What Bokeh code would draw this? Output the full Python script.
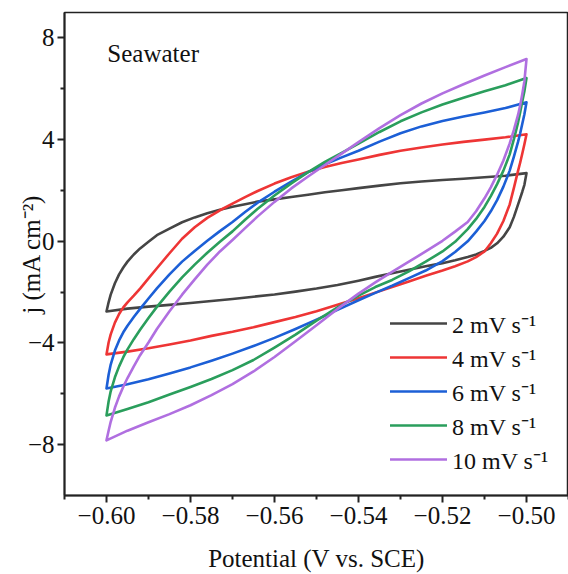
import numpy as np
from bokeh.plotting import figure
from bokeh.models import (Range1d, Legend, LegendItem, Label, FixedTicker,
                          CustomJSTickFormatter)
from bokeh.embed import file_html
from bokeh.resources import INLINE

# ---------------- data ----------------
scan_labels = ["2 mV s\u207b\u00b9", "4 mV s\u207b\u00b9", "6 mV s\u207b\u00b9",
               "8 mV s\u207b\u00b9", "10 mV s\u207b\u00b9"]
colors = ["#454545", "#ee3535", "#1c5fd6", "#2a9e5c", "#b06fe0"]

# forward (anodic) sweep potentials, V vs. SCE
potential_fwd = [-0.600, -0.5995, -0.599, -0.598, -0.597, -0.596, -0.595, -0.5935,
                 -0.592, -0.590, -0.588, -0.585, -0.582, -0.579, -0.576, -0.573,
                 -0.570, -0.567, -0.564, -0.560, -0.556, -0.552, -0.548, -0.544,
                 -0.540, -0.535, -0.530, -0.525, -0.520, -0.515, -0.510, -0.505,
                 -0.500]
# reverse (cathodic) sweep potentials
potential_rev = [-0.500, -0.5005, -0.501, -0.5015, -0.502, -0.503, -0.504, -0.5055,
                 -0.507, -0.5085, -0.510, -0.512, -0.514, -0.517, -0.520, -0.524,
                 -0.528, -0.532, -0.536, -0.540, -0.545, -0.550, -0.555, -0.560,
                 -0.565, -0.570, -0.575, -0.580, -0.585, -0.590, -0.595, -0.600]

# current density, mA cm-2
j2_fwd = [-2.76, -2.40, -2.10, -1.65, -1.30, -1.03, -0.80, -0.52, -0.28, -0.02,
          0.24, 0.50, 0.75, 0.94, 1.10, 1.24, 1.36, 1.46, 1.56, 1.65, 1.74, 1.83,
          1.93, 2.01, 2.09, 2.19, 2.28, 2.35, 2.41, 2.46, 2.52, 2.58, 2.68]
j2_rev = [2.68, 2.22, 1.95, 1.70, 1.45, 0.96, 0.55, 0.18, -0.08, -0.26, -0.38,
          -0.52, -0.62, -0.75, -0.86, -0.98, -1.12, -1.26, -1.40, -1.55, -1.72,
          -1.86, -1.98, -2.09, -2.18, -2.27, -2.35, -2.43, -2.50, -2.57, -2.65,
          -2.76]

j4_fwd = [-4.45, -3.98, -3.66, -3.20, -2.86, -2.60, -2.40, -2.14, -1.86, -1.46,
          -1.06, -0.47, 0.10, 0.55, 0.92, 1.22, 1.48, 1.74, 1.98, 2.27, 2.52, 2.74,
          2.92, 3.08, 3.22, 3.40, 3.56, 3.69, 3.81, 3.91, 4.00, 4.09, 4.21]
j4_rev = [4.21, 3.82, 3.45, 3.10, 2.78, 2.10, 1.45, 0.80, 0.30, -0.08, -0.40,
          -0.62, -0.79, -0.98, -1.15, -1.36, -1.58, -1.80, -2.02, -2.24, -2.50,
          -2.75, -2.98, -3.18, -3.38, -3.56, -3.72, -3.90, -4.06, -4.21, -4.34,
          -4.45]

j6_fwd = [-5.79, -5.25, -4.85, -4.30, -3.90, -3.58, -3.32, -2.98, -2.66, -2.25,
          -1.85, -1.30, -0.80, -0.38, 0.02, 0.40, 0.76, 1.15, 1.52, 1.95, 2.35,
          2.72, 3.03, 3.30, 3.56, 3.92, 4.25, 4.52, 4.73, 4.91, 5.07, 5.24, 5.47]
j6_rev = [5.47, 5.00, 4.62, 4.25, 3.92, 3.33, 2.78, 2.15, 1.62, 1.18, 0.80, 0.38,
          0.00, -0.42, -0.78, -1.15, -1.45, -1.75, -2.03, -2.32, -2.70, -3.08,
          -3.45, -3.80, -4.12, -4.42, -4.70, -4.96, -5.20, -5.43, -5.62, -5.79]

j8_fwd = [-6.85, -6.30, -5.90, -5.35, -4.92, -4.56, -4.25, -3.85, -3.48, -3.02,
          -2.58, -1.98, -1.42, -0.92, -0.45, -0.02, 0.39, 0.85, 1.28, 1.80, 2.28,
          2.72, 3.12, 3.48, 3.84, 4.30, 4.72, 5.07, 5.38, 5.65, 5.90, 6.14, 6.42]
j8_rev = [6.42, 5.90, 5.50, 5.08, 4.68, 4.02, 3.42, 2.78, 2.25, 1.78, 1.35, 0.88,
          0.48, -0.02, -0.40, -0.80, -1.18, -1.52, -1.80, -2.14, -2.60, -3.12,
          -3.67, -4.18, -4.67, -5.07, -5.42, -5.73, -6.03, -6.33, -6.60, -6.85]

j10_fwd = [-7.83, -7.45, -7.10, -6.55, -6.10, -5.72, -5.38, -4.92, -4.48, -3.98,
           -3.45, -2.75, -2.10, -1.50, -0.92, -0.40, 0.05, 0.52, 0.98, 1.55, 2.08,
           2.55, 3.00, 3.45, 3.90, 4.45, 4.96, 5.42, 5.82, 6.18, 6.52, 6.85, 7.17]
j10_rev = [7.17, 6.30, 5.80, 5.35, 4.98, 4.38, 3.85, 3.18, 2.62, 2.12, 1.69, 1.18,
           0.76, 0.38, 0.02, -0.40, -0.80, -1.20, -1.62, -2.06, -2.66, -3.30,
           -3.93, -4.55, -5.12, -5.62, -6.05, -6.45, -6.80, -7.12, -7.45, -7.83]

j_fwd = [j2_fwd, j4_fwd, j6_fwd, j8_fwd, j10_fwd]
j_rev = [j2_rev, j4_rev, j6_rev, j8_rev, j10_rev]

x_ticks = [-0.60, -0.58, -0.56, -0.54, -0.52, -0.50]
x_minor = [-0.61, -0.59, -0.57, -0.55, -0.53, -0.51, -0.49]
y_ticks = [-8, -4, 0, 4, 8]
y_minor = [-6, -2, 2, 6]

FONT = "Liberation Serif"
INK = "#111111"

# ---------------- figure ----------------
p = figure(width=568, height=574, output_backend="svg", toolbar_location=None,
           x_range=Range1d(-0.61, -0.49), y_range=Range1d(-10, 9),
           min_border_left=64, min_border_right=0, min_border_top=12,
           min_border_bottom=79)
p.background_fill_color = "white"
p.border_fill_color = "white"
p.grid.visible = False
p.outline_line_color = "#222222"
p.outline_line_width = 1.5

renderers = []
for col, jf, jr in zip(colors, j_fwd, j_rev):
    r = p.line(potential_fwd + potential_rev, jf + jr, line_color=col,
               line_width=2.6, line_join="round", line_cap="round")
    renderers.append(r)

# axes
for ax in (p.xaxis[0], p.yaxis[0]):
    ax.axis_line_width = 2
    ax.axis_line_color = "#222222"
    ax.major_tick_line_width = 2
    ax.minor_tick_line_width = 2
    ax.major_tick_line_color = "#222222"
    ax.minor_tick_line_color = "#222222"
    ax.major_tick_in = 0
    ax.major_tick_out = 7
    ax.minor_tick_in = 0
    ax.minor_tick_out = 4
    ax.major_label_text_font = FONT
    ax.major_label_text_font_size = "25px"
    ax.major_label_text_color = INK
    ax.axis_label_text_font = FONT
    ax.axis_label_text_font_size = "25px"
    ax.axis_label_text_font_style = "normal"
    ax.axis_label_text_color = INK

p.xaxis.ticker = FixedTicker(ticks=x_ticks, minor_ticks=x_minor)
p.yaxis.ticker = FixedTicker(ticks=y_ticks, minor_ticks=y_minor)
p.xaxis.formatter = CustomJSTickFormatter(
    code="return tick.toFixed(2).replace('-', '\u2212');")
p.yaxis.formatter = CustomJSTickFormatter(
    code="var s = Math.round(tick).toString(); return s.replace('-', '\u2212');")
p.xaxis.major_label_standoff = 4
p.yaxis.major_label_standoff = 3

p.xaxis.axis_label = "Potential (V vs. SCE)"
p.xaxis.axis_label_standoff = 18

p.yaxis.axis_label = "j (mA cm\u207b\u00b2)"
p.yaxis.axis_label_standoff = -20

# Seawater annotation
p.add_layout(Label(x=-0.5998, y=7.4, text="Seawater", text_font=FONT,
                   text_font_size="25px", text_color=INK,
                   text_baseline="alphabetic", text_align="left"))

legend = Legend(items=[LegendItem(label=l, renderers=[r])
                       for l, r in zip(scan_labels, renderers)],
                location=(326, 19), glyph_width=57, glyph_height=34,
                label_height=34, spacing=0, padding=0, margin=0,
                label_standoff=5, border_line_alpha=0,
                background_fill_alpha=0, label_text_font=FONT,
                label_text_font_size="24px", label_text_color=INK)
p.add_layout(legend)

open("out.html", "w").write(file_html(p, INLINE))
